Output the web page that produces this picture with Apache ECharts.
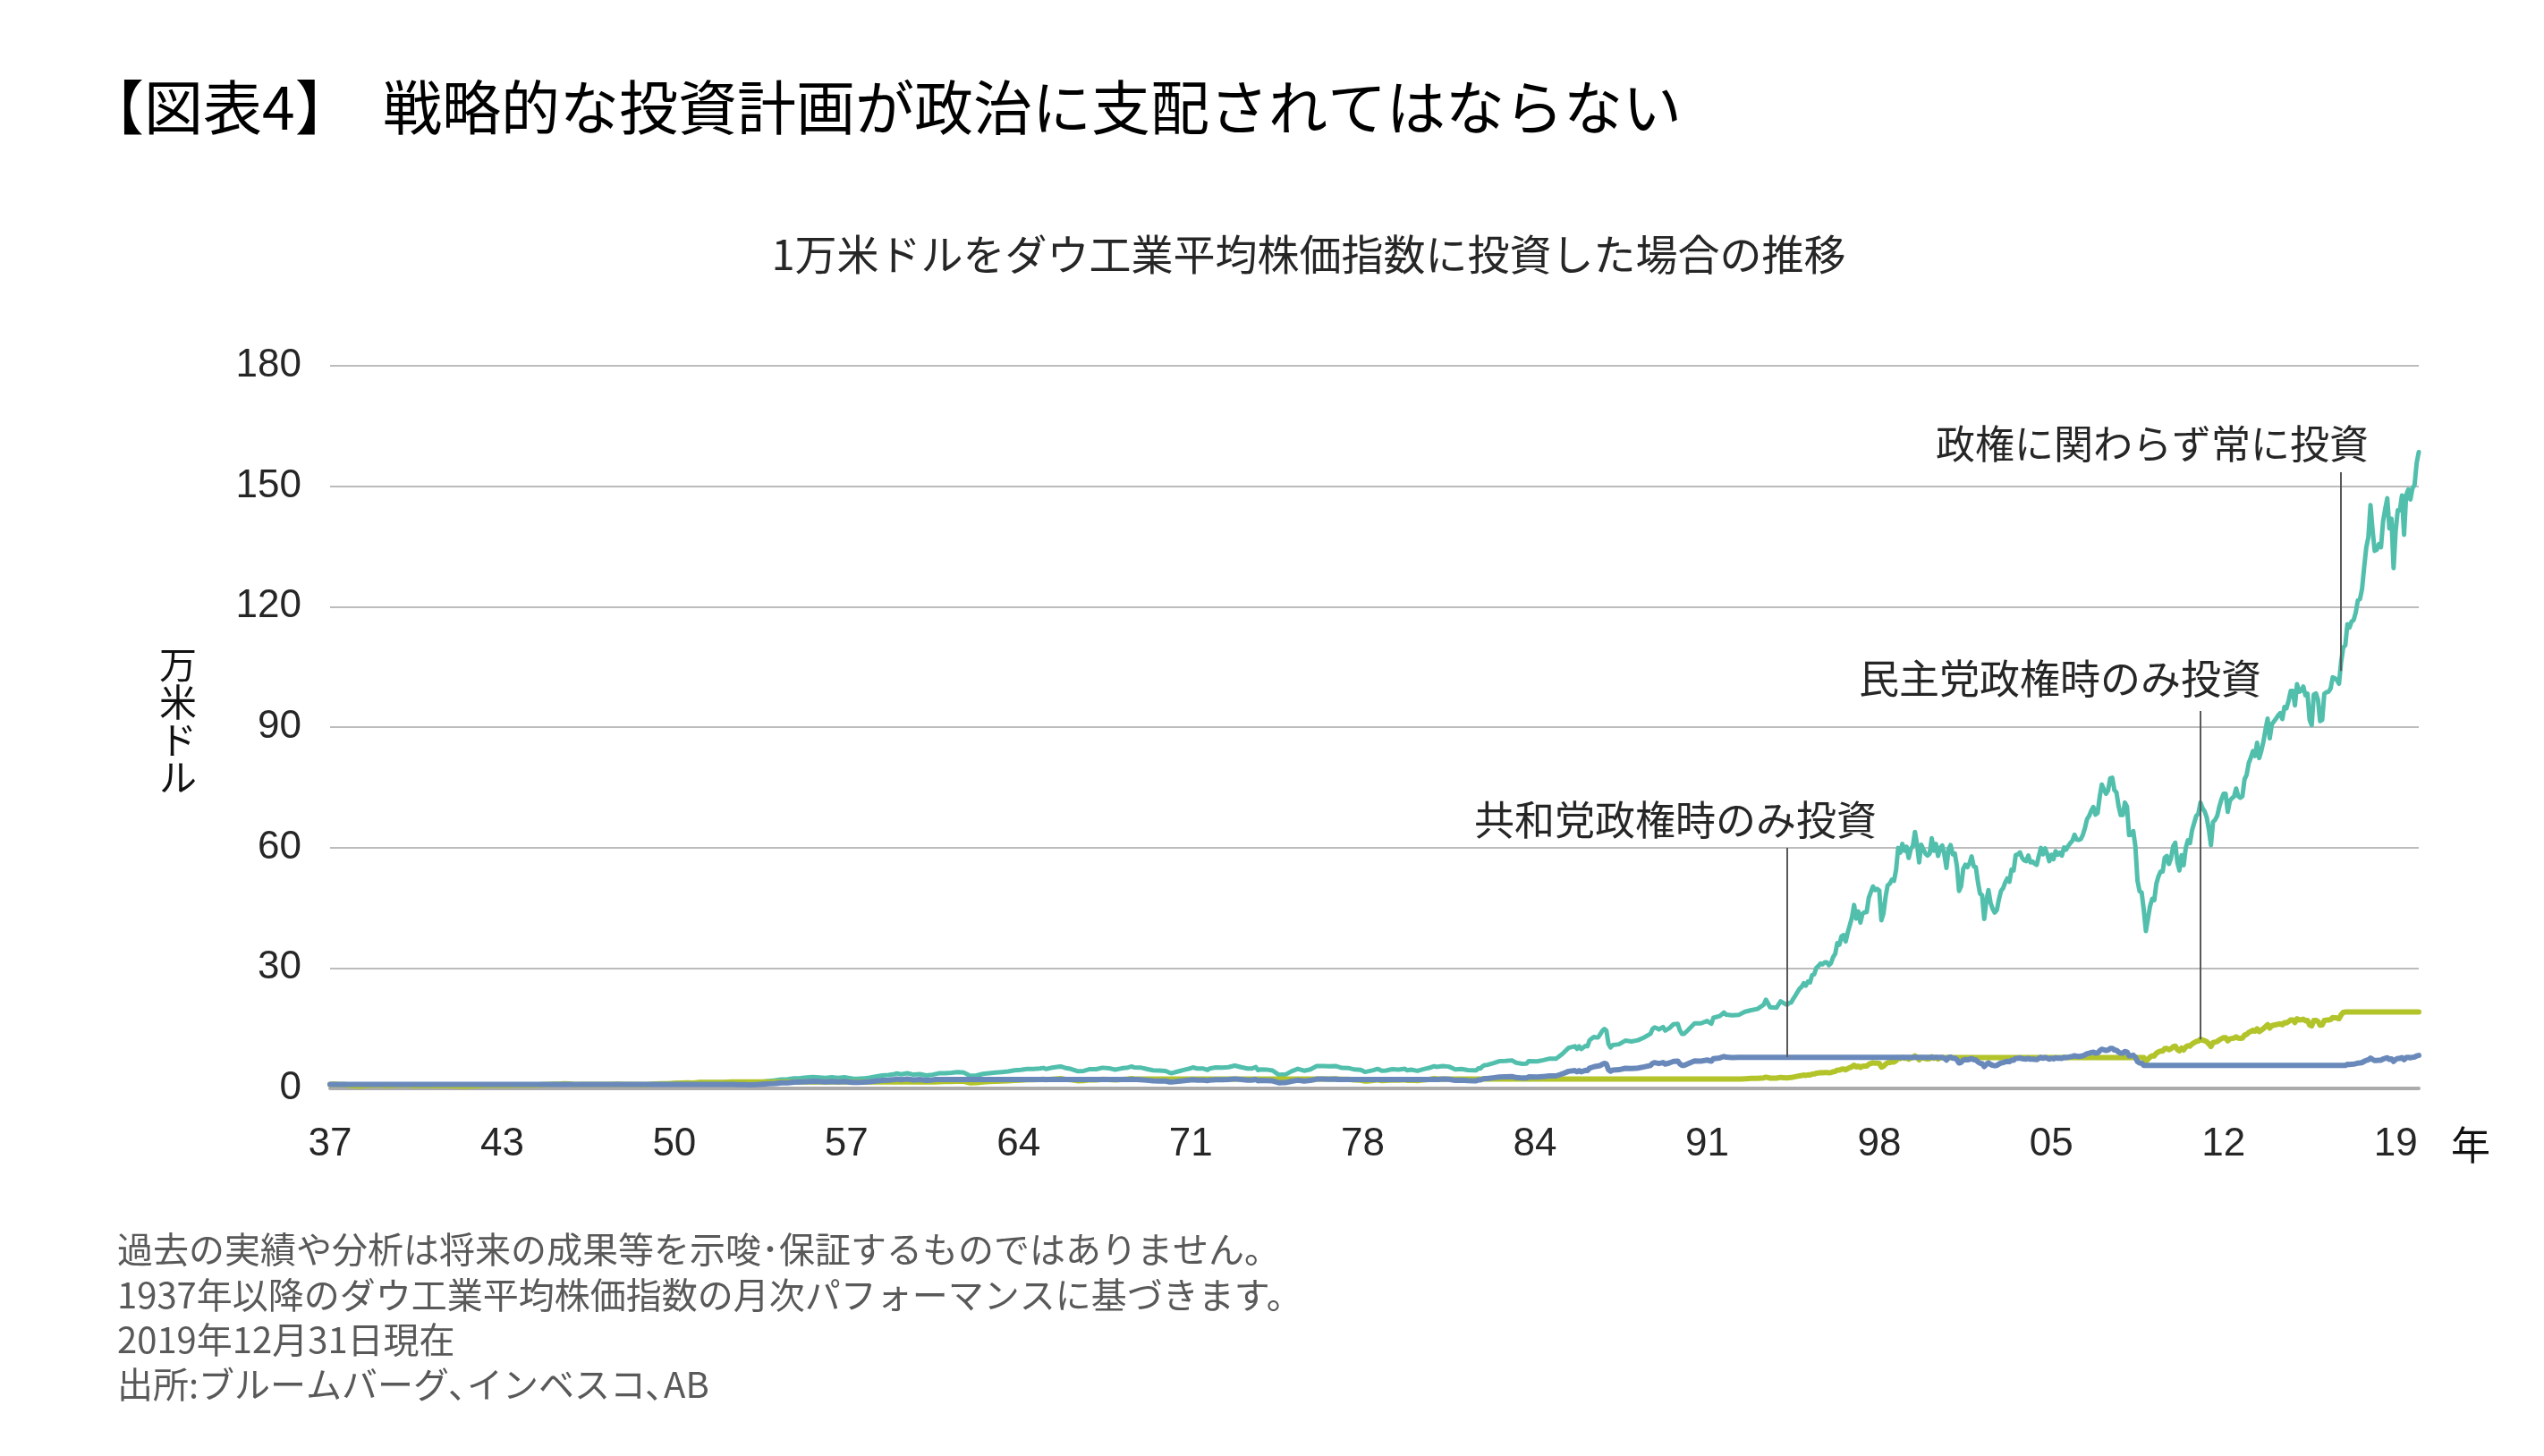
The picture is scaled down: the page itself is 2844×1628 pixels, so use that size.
<!DOCTYPE html>
<html><head><meta charset="utf-8">
<script src="https://cdn.jsdelivr.net/npm/echarts@6/dist/echarts.min.js"></script>
<style>html,body{margin:0;padding:0;background:#fff}#c{width:2844px;height:1628px}</style>
</head><body><div id="c"></div>
<script>
// ---------- DATA (万米ドル, month = 'YYYY-MM') ----------
const xTickLabels = ['37','43','50','57','64','71','78','84','91','98','05','12','19'];
const labelEveryMonths = 82;

// 1937-1952: always-invested and Democrat-only lines coincide
const earlyShared = [
['1937-01',1.00],['1937-03',1.04],['1937-06',0.94],['1937-08',0.99],['1937-09',0.86],['1937-10',0.77],['1937-11',0.69],['1937-12',0.67],
['1938-03',0.55],['1938-06',0.74],['1938-09',0.79],['1938-11',0.83],['1938-12',0.86],
['1939-03',0.73],['1939-06',0.73],['1939-09',0.85],['1939-12',0.83],
['1940-03',0.82],['1940-05',0.65],['1940-09',0.74],['1940-12',0.73],
['1941-03',0.68],['1941-06',0.68],['1941-09',0.70],['1941-12',0.62],
['1942-04',0.53],['1942-06',0.57],['1942-09',0.61],['1942-12',0.66],
['1943-03',0.76],['1943-06',0.80],['1943-09',0.78],['1943-12',0.76],
['1944-03',0.77],['1944-06',0.82],['1944-09',0.82],['1944-12',0.85],
['1945-03',0.86],['1945-06',0.92],['1945-09',1.00],['1945-12',1.07],
['1946-03',1.11],['1946-05',1.18],['1946-08',1.05],['1946-09',0.96],['1946-12',0.98],
['1947-03',0.98],['1947-06',0.99],['1947-09',0.99],['1947-12',1.01],
['1948-03',0.98],['1948-06',1.05],['1948-09',0.99],['1948-12',0.99],
['1949-03',0.98],['1949-06',0.93],['1949-09',1.01],['1949-12',1.11],
['1950-03',1.15],['1950-06',1.16],['1950-09',1.26],['1950-12',1.31],
['1951-03',1.38],['1951-06',1.35],['1951-09',1.51],['1951-12',1.50],
['1952-03',1.50],['1952-06',1.52],['1952-09',1.50],['1952-12',1.62]
];

// 政権に関わらず常に投資 (1953-1994, sparse)
const tealSparse = [
['1953-03',1.56],['1953-06',1.49],['1953-09',1.47],['1953-12',1.56],
['1954-03',1.69],['1954-06',1.85],['1954-09',2.00],['1954-12',2.25],
['1955-03',2.28],['1955-06',2.51],['1955-09',2.59],['1955-12',2.71],
['1956-03',2.84],['1956-06',2.74],['1956-09',2.64],['1956-12',2.78],
['1957-03',2.64],['1957-06',2.80],['1957-09',2.54],['1957-10',2.45],['1957-12',2.42],
['1958-03',2.48],['1958-06',2.66],['1958-09',2.96],['1958-12',3.24],
['1959-03',3.34],['1959-06',3.58],['1959-07',3.75],['1959-09',3.51],['1959-12',3.78],
['1960-03',3.43],['1960-06',3.56],['1960-09',3.22],['1960-12',3.42],
['1961-03',3.76],['1961-06',3.80],['1961-09',3.90],['1961-12',4.06],
['1962-03',3.93],['1962-06',3.12],['1962-09',3.22],['1962-12',3.62],
['1963-03',3.79],['1963-06',3.93],['1963-09',4.07],['1963-12',4.24],
['1964-03',4.52],['1964-06',4.62],['1964-09',4.86],['1964-12',4.86],
['1965-03',4.94],['1965-05',5.10],['1965-06',4.82],['1965-09',5.17],['1965-12',5.39],
['1966-01',5.47],['1966-03',5.14],['1966-06',4.83],['1966-09',4.30],['1966-12',4.37],
['1967-03',4.81],['1967-06',4.78],['1967-09',5.15],['1967-12',5.03],
['1968-03',4.67],['1968-06',4.99],['1968-09',5.20],['1968-11',5.47],['1968-12',5.24],
['1969-03',5.20],['1969-06',4.85],['1969-09',4.52],['1969-12',4.45],
['1970-03',4.36],['1970-05',3.89],['1970-06',3.80],['1970-09',4.23],['1970-12',4.66],
['1971-03',5.02],['1971-04',5.23],['1971-06',4.95],['1971-09',4.93],['1971-11',4.62],['1971-12',4.95],
['1972-03',5.23],['1972-06',5.16],['1972-09',5.30],['1972-12',5.67],
['1973-03',5.28],['1973-06',4.95],['1973-08',4.93],['1973-10',5.31],['1973-11',4.57],['1973-12',4.73],
['1974-03',4.70],['1974-06',4.46],['1974-09',3.38],['1974-11',3.44],['1974-12',3.42],
['1975-03',4.27],['1975-06',4.88],['1975-09',4.41],['1975-12',4.74],
['1976-03',5.55],['1976-06',5.57],['1976-09',5.50],['1976-12',5.58],
['1977-03',5.11],['1977-06',5.09],['1977-09',4.71],['1977-12',4.62],
['1978-02',4.12],['1978-03',4.21],['1978-06',4.55],['1978-08',4.87],['1978-10',4.40],['1978-12',4.47],
['1979-03',4.79],['1979-06',4.68],['1979-09',4.88],['1979-10',4.53],['1979-12',4.66],
['1980-03',4.37],['1980-06',4.82],['1980-09',5.18],['1980-11',5.52],['1980-12',5.36],
['1981-03',5.58],['1981-06',5.43],['1981-09',4.72],['1981-12',4.86],
['1982-03',4.57],['1982-06',4.51],['1982-07',4.49],['1982-08',5.01],['1982-09',4.98],['1982-10',5.51],['1982-11',5.77],['1982-12',5.82],
['1983-03',6.28],['1983-06',6.79],['1983-09',6.85],['1983-12',6.99],
['1984-02',6.42],['1984-05',6.14],['1984-07',6.19],['1984-08',6.80],['1984-12',6.73],
['1985-03',7.04],['1985-06',7.42],['1985-09',7.38],['1985-11',8.18],['1985-12',8.59],
['1986-03',10.1],['1986-06',10.5],['1986-07',9.86],['1986-08',10.5],['1986-09',9.82],['1986-11',10.6],['1986-12',10.5],
['1987-01',12.0],['1987-02',12.4],['1987-03',12.8],['1987-04',12.7],['1987-05',12.7],['1987-06',13.4],['1987-07',14.3],['1987-08',14.8],['1987-09',14.4],['1987-10',11.1],['1987-11',10.2],['1987-12',10.8],
['1988-03',11.0],['1988-06',11.9],['1988-09',11.7],['1988-12',12.0],
['1989-03',12.7],['1989-06',13.6],['1989-07',14.8],['1989-08',15.2],['1989-09',15.0],['1989-10',14.7],['1989-12',15.3],
['1990-01',14.4],['1990-03',15.0],['1990-05',16.0],['1990-07',16.1],['1990-08',14.5],['1990-09',13.6],['1990-10',13.6],['1990-12',14.6],
['1991-03',16.2],['1991-06',16.2],['1991-09',16.8],['1991-11',16.1],['1991-12',17.6],
['1992-03',18.0],['1992-05',18.9],['1992-06',18.4],['1992-09',18.2],['1992-12',18.3],
['1993-03',19.1],['1993-06',19.5],['1993-09',19.8],['1993-12',20.9],
['1994-01',22.1],['1994-03',20.2],['1994-06',20.1],['1994-08',21.7],['1994-11',20.8],['1994-12',21.3]
];
// monthly from 1995-01 to 2019-12
const tealMonthlyStart = '1995-01';
const tealMonthly = [
21.4,22.3,23.1,24.0,24.8,25.3,26.2,25.6,26.6,26.4,28.2,28.4,
30.0,30.5,31.1,30.9,31.4,31.4,30.7,31.2,32.7,33.5,36.2,35.8,
37.9,38.2,36.6,38.9,40.7,42.6,45.7,42.3,44.1,41.3,43.5,43.9,
43.9,47.5,48.9,50.3,49.4,49.7,49.3,41.9,43.6,47.7,50.6,51.0,
52.0,51.7,54.4,59.9,58.7,60.9,59.2,60.2,57.4,59.6,60.4,63.9,
60.8,56.3,60.7,59.6,58.5,58.0,58.5,62.3,59.2,60.9,57.9,59.9,
60.5,58.3,54.9,59.6,60.6,58.3,58.5,55.3,49.2,50.4,54.7,55.7,
55.1,56.1,57.8,55.3,55.1,51.4,48.5,48.1,42.2,46.7,49.4,46.3,
44.7,43.8,44.4,47.1,49.2,49.9,51.3,52.3,51.5,54.5,54.3,58.1,
58.3,58.8,57.5,56.8,56.6,58.0,56.3,56.5,56.0,55.7,57.9,59.9,
58.3,59.8,58.4,56.6,58.2,57.1,59.1,58.2,58.7,58.0,60.0,59.5,
60.4,61.1,61.7,63.2,62.0,61.9,62.1,63.2,64.9,67.1,67.9,69.2,
70.1,68.2,68.6,72.6,75.7,74.5,73.4,74.2,77.2,77.4,74.3,73.7,
70.3,68.1,68.1,71.2,70.2,63.1,63.2,64.1,60.3,51.8,49.1,48.8,
44.5,39.2,42.3,45.4,47.2,46.9,51.0,52.8,54.0,54.0,57.5,57.9,
55.9,57.4,60.3,61.2,56.3,54.3,58.1,55.6,59.9,61.8,61.1,64.3,
66.1,67.9,68.4,71.2,69.8,69.0,67.5,64.5,60.6,66.4,66.9,67.9,
70.2,72.0,73.4,73.4,68.9,71.6,72.3,72.7,74.7,72.8,72.4,72.8,
77.0,78.1,81.0,82.4,84.0,82.8,86.1,82.3,84.1,86.4,89.4,92.1,
87.2,90.7,91.4,92.1,92.9,93.5,92.0,95.0,94.7,96.6,99.0,99.0,
95.4,100.7,98.8,99.1,100.1,97.9,98.3,91.8,90.5,98.1,98.4,96.8,
91.5,91.8,98.3,98.7,98.8,99.6,102.4,102.2,101.7,100.8,106.2,109.8,
110.4,115.6,114.8,116.3,116.7,118.6,121.6,121.9,124.5,129.9,134.8,137.3,
145.3,139.1,133.9,134.2,135.6,134.8,141.2,144.3,147.0,139.5,141.9,129.6,
138.9,144.0,144.0,147.7,137.9,147.8,149.2,146.7,149.5,150.3,155.8,158.5
];

// 民主党政権時のみ投資 (after 1952, sparse)
const limeSparse = [
['1953-01',1.61],['1961-01',1.61],
['1961-03',1.68],['1961-06',1.70],['1961-09',1.74],['1961-12',1.82],
['1962-03',1.76],['1962-06',1.39],['1962-09',1.44],['1962-12',1.62],
['1963-03',1.70],['1963-06',1.76],['1963-09',1.82],['1963-12',1.90],
['1964-03',2.02],['1964-06',2.07],['1964-09',2.17],['1964-12',2.17],
['1965-03',2.21],['1965-05',2.28],['1965-06',2.16],['1965-09',2.31],['1965-12',2.41],
['1966-01',2.44],['1966-03',2.30],['1966-06',2.16],['1966-09',1.92],['1966-12',1.95],
['1967-03',2.15],['1967-06',2.14],['1967-09',2.30],['1967-12',2.25],
['1968-03',2.09],['1968-06',2.23],['1968-09',2.32],['1968-11',2.45],['1968-12',2.34],
['1969-01',2.35],['1977-01',2.35],
['1977-03',2.26],['1977-06',2.26],['1977-09',2.09],['1977-12',2.05],
['1978-02',1.83],['1978-03',1.86],['1978-06',2.02],['1978-08',2.16],['1978-10',1.95],['1978-12',1.98],
['1979-03',2.12],['1979-06',2.07],['1979-09',2.16],['1979-10',2.01],['1979-12',2.06],
['1980-03',1.93],['1980-06',2.14],['1980-09',2.30],['1980-11',2.45],['1980-12',2.37],
['1981-01',2.33],['1993-01',2.33],
['1993-03',2.42],['1993-06',2.48],['1993-09',2.50],['1993-12',2.64],
['1994-01',2.80],['1994-03',2.56],['1994-06',2.55],['1994-08',2.75],['1994-11',2.63],['1994-12',2.70]
];
const limeMonthlyAStart = '1995-01';
const limeMonthlyA = [
2.71,2.82,2.93,3.04,3.14,3.21,3.32,3.25,3.37,3.35,3.57,3.60,
3.80,3.86,3.93,3.92,3.97,3.98,3.89,3.95,4.14,4.24,4.59,4.54,
4.80,4.84,4.64,4.93,5.16,5.40,5.79,5.37,5.59,5.24,5.51,5.57,
5.57,6.02,6.20,6.38,6.27,6.30,6.25,5.31,5.52,6.05,6.42,6.46,
6.59,6.55,6.89,7.60,7.43,7.72,7.50,7.62,7.28,7.55,7.66,8.09,
7.70,7.13,7.69,7.56,7.41,7.36,7.41,7.90,7.50,7.72,7.33,7.59
];
const limeFlat2001 = [['2001-01',7.66],['2009-01',7.66]];
const limeMonthlyBStart = '2009-02';
const limeMonthlyB = [
6.76,7.28,7.82,8.14,8.09,8.78,9.09,9.30,9.30,9.90,9.98,
9.64,9.89,10.39,10.54,9.71,9.36,10.02,9.59,10.33,10.64,10.54,11.08,
11.39,11.71,11.80,12.27,12.03,11.89,11.63,11.12,10.45,11.45,11.53,11.70,
12.09,12.40,12.65,12.65,11.87,12.33,12.45,12.53,12.86,12.54,12.47,12.55,
13.27,13.46,13.96,14.21,14.47,14.27,14.84,14.18,14.49,14.88,15.40,15.87,
15.03,15.63,15.76,15.87,16.00,16.11,15.86,16.37,16.32,16.65,17.07,17.06,
16.43,17.36,17.02,17.08,17.24,16.87,16.94,15.82,15.59,16.91,16.96,16.68,
15.76,15.81,16.93,17.02,17.03,17.17,17.65,17.62,17.53,17.37,18.31,18.92
];
const limeFlat2017 = [['2017-01',19.02],['2019-12',19.02]];

// 共和党政権時のみ投資
const blueSparse = [
['1937-01',1.00],['1953-01',1.00],
['1953-03',0.97],['1953-06',0.93],['1953-09',0.91],['1953-12',0.97],
['1954-03',1.05],['1954-06',1.15],['1954-09',1.24],['1954-12',1.40],
['1955-03',1.41],['1955-06',1.56],['1955-09',1.61],['1955-12',1.69],
['1956-03',1.77],['1956-06',1.70],['1956-09',1.64],['1956-12',1.72],
['1957-03',1.64],['1957-06',1.74],['1957-09',1.57],['1957-10',1.52],['1957-12',1.50],
['1958-03',1.54],['1958-06',1.65],['1958-09',1.84],['1958-12',2.01],
['1959-03',2.08],['1959-06',2.22],['1959-07',2.33],['1959-09',2.18],['1959-12',2.34],
['1960-03',2.13],['1960-06',2.21],['1960-09',2.00],['1960-12',2.13],
['1961-01',2.20],['1969-01',2.20],
['1969-03',2.18],['1969-06',2.03],['1969-09',1.89],['1969-12',1.86],
['1970-03',1.83],['1970-05',1.63],['1970-06',1.59],['1970-09',1.77],['1970-12',1.95],
['1971-03',2.10],['1971-04',2.19],['1971-06',2.07],['1971-09',2.06],['1971-11',1.93],['1971-12',2.07],
['1972-03',2.19],['1972-06',2.16],['1972-09',2.22],['1972-12',2.37],
['1973-03',2.21],['1973-06',2.07],['1973-08',2.06],['1973-10',2.23],['1973-11',1.91],['1973-12',1.98],
['1974-03',1.97],['1974-06',1.87],['1974-09',1.41],['1974-11',1.44],['1974-12',1.43],
['1975-03',1.79],['1975-06',2.04],['1975-09',1.85],['1975-12',1.98],
['1976-03',2.32],['1976-06',2.33],['1976-09',2.30],['1976-12',2.34],
['1977-01',2.22],['1981-01',2.22],
['1981-03',2.35],['1981-06',2.29],['1981-09',1.99],['1981-12',2.05],
['1982-03',1.93],['1982-06',1.90],['1982-07',1.90],['1982-08',2.11],['1982-09',2.10],['1982-10',2.32],['1982-11',2.44],['1982-12',2.45],
['1983-03',2.65],['1983-06',2.86],['1983-09',2.89],['1983-12',2.95],
['1984-02',2.71],['1984-05',2.59],['1984-07',2.61],['1984-08',2.87],['1984-12',2.84],
['1985-03',2.97],['1985-06',3.13],['1985-09',3.12],['1985-11',3.45],['1985-12',3.63],
['1986-03',4.26],['1986-06',4.44],['1986-07',4.16],['1986-08',4.45],['1986-09',4.14],['1986-11',4.49],['1986-12',4.44],
['1987-01',5.06],['1987-03',5.40],['1987-06',5.67],['1987-07',6.03],['1987-08',6.24],['1987-09',6.09],['1987-10',4.67],['1987-11',4.30],['1987-12',4.55],
['1988-03',4.66],['1988-06',5.02],['1988-09',4.95],['1988-12',5.08],
['1989-03',5.38],['1989-06',5.72],['1989-07',6.24],['1989-08',6.42],['1989-09',6.31],['1989-10',6.20],['1989-12',6.45],
['1990-01',6.07],['1990-03',6.35],['1990-05',6.74],['1990-07',6.81],['1990-08',6.13],['1990-09',5.75],['1990-10',5.72],['1990-12',6.17],
['1991-03',6.83],['1991-06',6.81],['1991-09',7.07],['1991-11',6.79],['1991-12',7.43],
['1992-03',7.59],['1992-05',7.96],['1992-06',7.78],['1992-09',7.67],['1992-12',7.74],
['1993-01',7.76],['2001-01',7.76]
];
const blueMonthlyAStart = '2001-02';
const blueMonthlyA = [
7.52,7.08,7.69,7.82,7.52,7.54,7.13,6.34,6.50,7.06,7.18,
7.11,7.24,7.45,7.13,7.11,6.62,6.26,6.21,5.44,6.02,6.37,5.98,
5.77,5.65,5.73,6.08,6.34,6.44,6.62,6.75,6.65,7.02,7.01,7.49,
7.51,7.58,7.42,7.33,7.30,7.48,7.27,7.29,7.22,7.18,7.47,7.73,
7.52,7.71,7.53,7.30,7.50,7.36,7.62,7.51,7.57,7.48,7.74,7.68,
7.78,7.88,7.96,8.14,8.00,7.99,8.01,8.15,8.37,8.66,8.76,8.93,
9.04,8.79,8.85,9.36,9.76,9.61,9.47,9.57,9.96,9.98,9.58,9.50,
9.06,8.79,8.79,9.19,9.06,8.13,8.15,8.27,7.77,6.68,6.33,6.29,
5.73
];
const blueFlat2009 = [['2017-01',5.73]];
const blueMonthlyBStart = '2017-02';
const blueMonthlyB = [
6.00,5.96,6.04,6.06,6.16,6.32,6.33,6.46,6.74,7.00,7.13,
7.54,7.22,6.95,6.97,7.04,7.00,7.33,7.49,7.63,7.25,7.37,6.73,
7.21,7.48,7.48,7.67,7.16,7.67,7.75,7.62,7.77,7.80,8.09,8.23
];

const seriesNames = ['政権に関わらず常に投資','民主党政権時のみ投資','共和党政権時のみ投資'];
const footnotes = [
'過去の実績や分析は将来の成果等を示唆･保証するものではありません。',
'1937年以降のダウ工業平均株価指数の月次パフォーマンスに基づきます。',
'2019年12月31日現在',
'出所:ブルームバーグ､インベスコ､AB'
];

// ---------- BUILD ----------
function mi(s){const p=s.split('-').map(Number);return (p[0]-1937)*12+p[1]-1;}
function pairs(a){return a.map(d=>[mi(d[0]),d[1]]);}
function monthly(start,vals){const s=mi(start);return vals.map((v,i)=>[s+i,v]);}
const lastMonth = mi('2019-12');

const tealData = pairs(earlyShared).concat(pairs(tealSparse), monthly(tealMonthlyStart,tealMonthly));
const limeData = pairs(earlyShared).concat(pairs(limeSparse), monthly(limeMonthlyAStart,limeMonthlyA),
  pairs(limeFlat2001), monthly(limeMonthlyBStart,limeMonthlyB), pairs(limeFlat2017));
const blueData = pairs(blueSparse).concat(monthly(blueMonthlyAStart,blueMonthlyA), pairs(blueFlat2009), monthly(blueMonthlyBStart,blueMonthlyB));

const CJK = "'Noto Sans CJK JP','Noto Sans CJK SC',sans-serif";
const LAT = "'Liberation Sans',Arial,sans-serif";
const annColor = '#595959';

function vline(month, top, bottom){return [{coord:[mi(month),top]},{coord:[mi(month),bottom]}];}

const chart = echarts.init(document.getElementById('c'), null, {renderer:'canvas'});
const option = {
  animation:false,
  backgroundColor:'#ffffff',
  grid:{left:369,right:140,top:409,bottom:411,containLabel:false},
  xAxis:{type:'value',min:0,max:lastMonth,interval:labelEveryMonths,
    axisLine:{show:true,lineStyle:{color:'#ababab',width:4}},
    axisTick:{show:false},splitLine:{show:false},
    axisLabel:{margin:41,fontSize:44,color:'#262626',fontFamily:LAT,
      formatter:function(v){const k=v/labelEveryMonths;return (Number.isInteger(k)&&k<xTickLabels.length)?xTickLabels[k]:'';}}},
  yAxis:{type:'value',min:0,max:180,interval:30,
    axisLine:{show:false},axisTick:{show:false},
    splitLine:{lineStyle:{color:'#bcbcbc',width:2}},
    axisLabel:{margin:32,fontSize:44,color:'#262626',fontFamily:LAT}},
  series:[
    {name:seriesNames[0],type:'line',data:tealData,showSymbol:false,symbol:'none',
     lineStyle:{color:'#52bfad',width:5,cap:'round',join:'round'},
     markLine:{silent:true,symbol:'none',label:{show:false},
       lineStyle:{color:annColor,width:2,type:'solid'},
       data:[vline('2016-11',153.5,104),vline('2011-04',94,12.2),vline('1994-11',59.9,7.8)]}},
    {name:seriesNames[1],type:'line',data:limeData,showSymbol:false,symbol:'none',
     lineStyle:{color:'#b2c42a',width:6,cap:'round',join:'round'}},
    {name:seriesNames[2],type:'line',data:blueData,showSymbol:false,symbol:'none',
     lineStyle:{color:'#6a89bb',width:6,cap:'round',join:'round'}}
  ],
  graphic:[
    {type:'text',left:95,top:87,style:{text:'【図表4】',font:'400 66px '+CJK,fill:'#000'}},
    {type:'text',left:428,top:87,style:{text:'戦略的な投資計画が政治に支配されてはならない',font:'400 66px '+CJK,fill:'#000'}},
    {type:'text',x:1463,y:284,style:{text:'1万米ドルをダウ工業平均株価指数に投資した場合の推移',font:'400 47px '+CJK,fill:'#262626',align:'center',verticalAlign:'middle'}},
    {type:'text',x:199,y:806,style:{text:'万\n米\nド\nル',font:'400 42px '+CJK,lineHeight:42,fill:'#111',align:'center',verticalAlign:'middle'}},
    {type:'text',x:2762,y:1280,style:{text:'年',font:'400 44px '+CJK,fill:'#111',align:'center',verticalAlign:'middle'}},
    {type:'text',x:2164,y:496,style:{text:seriesNames[0],font:'400 44px '+CJK,fill:'#262626',align:'left',verticalAlign:'middle'}},
    {type:'text',x:2078,y:759,style:{text:seriesNames[1],font:'400 45px '+CJK,fill:'#262626',align:'left',verticalAlign:'middle'}},
    {type:'text',x:1648,y:917,style:{text:seriesNames[2],font:'400 45px '+CJK,fill:'#262626',align:'left',verticalAlign:'middle'}},
    {type:'text',x:131,y:1397,style:{text:footnotes[0],font:'400 40px '+CJK,fill:'#595959',align:'left',verticalAlign:'middle'}},
    {type:'text',x:131,y:1448,style:{text:footnotes[1],font:'400 40px '+CJK,fill:'#595959',align:'left',verticalAlign:'middle'}},
    {type:'text',x:131,y:1498,style:{text:footnotes[2],font:'400 40px '+CJK,fill:'#595959',align:'left',verticalAlign:'middle'}},
    {type:'text',x:131,y:1548,style:{text:footnotes[3],font:'400 40px '+CJK,fill:'#595959',align:'left',verticalAlign:'middle'}}
  ]
};
chart.setOption(option);
</script>
</body></html>
